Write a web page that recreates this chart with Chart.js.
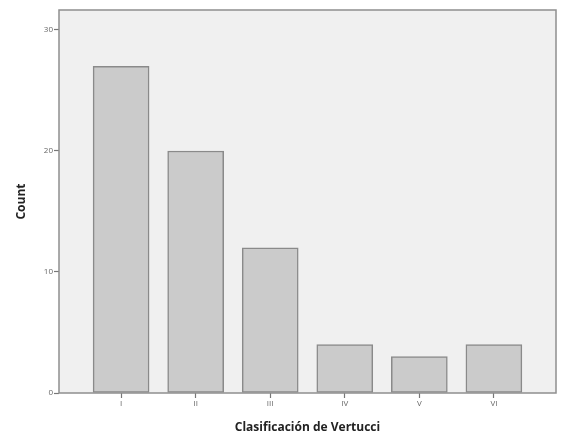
<!DOCTYPE html>
<html>
<head>
<meta charset="utf-8">
<script src="https://cdn.jsdelivr.net/npm/chart.js@4"></script>
<style>
  html, body { margin: 0; padding: 0; background: #fff; }
  #wrap { width: 562px; height: 445px; }
</style>
</head>
<body>
<div id="wrap"><canvas id="chart" width="562" height="445"></canvas></div>
<script>
// === Data ===
const categories = ['I', 'II', 'III', 'IV', 'V', 'VI'];
const counts = [27, 20, 12, 4, 3, 4];
const yTicks = [0, 10, 20, 30];

// === Plot frame (SPSS style panel) ===
const panelPlugin = {
  id: 'panel',
  beforeDraw(chart) {
    const { ctx, chartArea: a } = chart;
    ctx.save();
    ctx.fillStyle = '#f0f0f0';
    ctx.fillRect(a.left, a.top, a.right - a.left, a.bottom - a.top);
    ctx.restore();
  },
  afterDatasetsDraw(chart) {
    const { ctx, chartArea: a } = chart;
    ctx.save();
    ctx.strokeStyle = '#8f8f8f';
    ctx.lineWidth = 1.5;
    ctx.strokeRect(a.left, a.top, a.right - a.left, a.bottom - a.top);
    ctx.restore();
  }
};

const tickGrid = {
  display: true,
  offset: false,
  drawOnChartArea: false,
  drawTicks: true,
  tickLength: 5,
  tickWidth: 1.2,
  tickColor: '#777'
};

new Chart(document.getElementById('chart').getContext('2d'), {
  type: 'bar',
  data: {
    datasets: [{
      data: counts.map((v, i) => ({ x: i, y: v })),
      backgroundColor: '#cbcbcb',
      borderColor: '#8a8a8a',
      borderWidth: 1.5,
      borderSkipped: false,
      barThickness: 56
    }]
  },
  plugins: [panelPlugin],
  options: {
    responsive: false,
    animation: false,
    layout: { padding: { top: 10, right: 6, left: 0, bottom: 0 } },
    plugins: { legend: { display: false }, tooltip: { enabled: false } },
    scales: {
      x: {
        type: 'linear',
        offset: false,
        min: -0.833,
        max: 5.833,
        afterBuildTicks: (s) => { s.ticks = categories.map((c, i) => ({ value: i })); },
        afterFit: (s) => { s.height = 52; },
        grid: tickGrid,
        border: { display: false },
        ticks: {
          callback: (v) => categories[v],
          color: '#666',
          font: { family: 'Open Sans', size: 8 },
          padding: 1
        },
        title: {
          display: true,
          text: 'Clasificación de Vertucci',
          color: '#222',
          font: { family: 'Open Sans', size: 12, weight: 'bold' },
          padding: { top: 3, bottom: 10 }
        }
      },
      y: {
        min: 0,
        max: 31.65,
        afterBuildTicks: (s) => { s.ticks = yTicks.map(v => ({ value: v })); },
        afterFit: (s) => { s.width = 59; },
        grid: tickGrid,
        border: { display: false },
        ticks: {
          color: '#666',
          font: { family: 'Open Sans', size: 8 },
          padding: 1
        },
        title: {
          display: true,
          text: 'Count',
          color: '#222',
          font: { family: 'Open Sans', size: 12, weight: 'bold' },
          padding: { top: 14, bottom: 4 }
        }
      }
    }
  }
});
</script>
</body>
</html>
